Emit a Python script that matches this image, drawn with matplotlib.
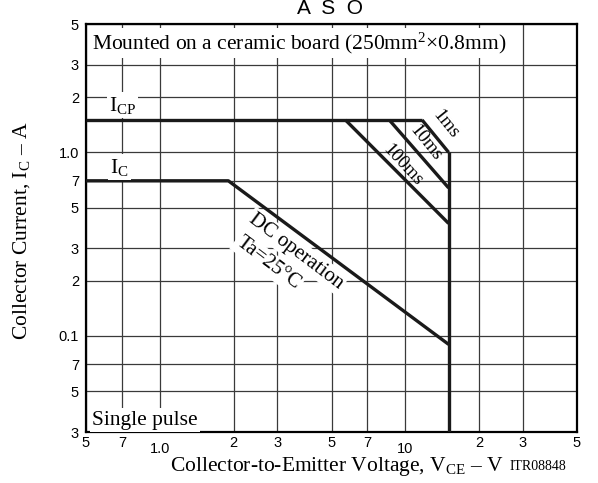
import matplotlib.pyplot as plt
import numpy as np

plt.rcParams['font.family'] = 'Liberation Sans'
plt.rcParams['mathtext.fontset'] = 'custom'
plt.rcParams['mathtext.rm'] = 'Liberation Serif'
plt.rcParams['mathtext.it'] = 'Liberation Serif:italic'

SERIF = 'Liberation Serif'

# tick positions and labels
x_ticks = [0.5, 0.7, 1.0, 2, 3, 5, 7, 10, 20, 30, 50]
x_labels = ['5', '7', '1.0', '2', '3', '5', '7', '10', '2', '3', '5']
y_ticks = [0.03, 0.05, 0.07, 0.1, 0.2, 0.3, 0.5, 0.7, 1.0, 2, 3, 5]
y_labels = ['3', '5', '7', '0.1', '2', '3', '5', '7', '1.0', '2', '3', '5']

# safe operating area curves (V, A)
icp_v = [0.5, 11.7]
icp_i = [1.5, 1.5]
ms1_v = [11.7, 15]
ms1_i = [1.5, 1.0]
ms10_v = [8.6, 15]
ms10_i = [1.5, 0.64]
ms100_v = [5.7, 15]
ms100_i = [1.5, 0.41]
dc_v = [0.5, 1.9, 15]
dc_i = [0.7, 0.7, 0.09]
vceo_v = [15, 15]
vceo_i = [1.0, 0.03]

fig = plt.figure(figsize=(5.98, 4.83), dpi=100)
ax = fig.add_axes([86/598, 1-432/483, 491/598, 408/483])
ax.set_xscale('log')
ax.set_yscale('log')
ax.set_xlim(0.5, 50)
ax.set_ylim(0.03, 5)
ax.minorticks_off()

ax.set_xticks(x_ticks)
ax.set_xticklabels(x_labels, fontsize=10.5)
ax.set_yticks(y_ticks)
ax.set_yticklabels(y_labels, fontsize=10.5)
ax.tick_params(length=0)
ax.tick_params(axis='x', pad=3)
ax.tick_params(axis='y', pad=5)
for i, t in enumerate(ax.xaxis.get_major_ticks()):
    if x_labels[i] in ('1.0', '10'):
        t.set_pad(7)

ax.grid(True, color='#3a3a3a', linewidth=0.9)
for s in ax.spines.values():
    s.set_linewidth(1.6)

lw = 2.4
for xs, ys in [(icp_v, icp_i), (ms1_v, ms1_i), (ms10_v, ms10_i),
               (ms100_v, ms100_i), (dc_v, dc_i), (vceo_v, vceo_i)]:
    ax.plot(xs, ys, color='#1a1a1a', linewidth=lw, solid_capstyle='butt', zorder=3)

box = dict(facecolor='white', edgecolor='none', pad=1.5)

def ptext(px, py, s, **kw):
    # place text in figure pixel coordinates (origin top-left)
    kw.setdefault('family', SERIF)
    kw.setdefault('fontsize', 15.5)
    fig.text(px/598, 1-py/483, s, **kw)

ptext(92, 43, 'Mounted on a ceramic board (250mm$^{2}$\u00d70.8mm)', ha='left', va='center',
      bbox=box)
ptext(109, 105, 'I$_{\\mathrm{CP}}$', ha='left', va='center', bbox=box)
ptext(110, 167, 'I$_{\\mathrm{C}}$', ha='left', va='center', bbox=box)
ptext(446, 124, '1ms', ha='center', va='center', rotation=-51, fontsize=13.5)
ptext(426, 143, '10ms', ha='center', va='center', rotation=-51, fontsize=13.5)
ptext(403, 165, '100ms', ha='center', va='center', rotation=-47, fontsize=13.5)
ptext(296, 251, 'DC operation', ha='center', va='center', rotation=-37, fontsize=15, bbox=box)
ptext(268, 263, 'Ta=25\u00b0C', ha='center', va='center', rotation=-37, fontsize=15, bbox=box)
ptext(92, 420, 'Single pulse', ha='left', va='center', bbox=box)

fig.text(330/598, 1-14/483, 'A  S  O', ha='center', va='baseline', fontsize=15)

ptext(22, 231, 'Collector Current, I$_{\\mathrm{C}}$ \u2013 A', ha='center', va='center', rotation=90)
ptext(504, 467, 'Collector-to-Emitter Voltage, V$_{\\mathrm{CE}}$ \u2013 V', ha='right', va='center')
ptext(510, 467, 'ITR08848', ha='left', va='center', fontsize=10)

fig.savefig('out.png', dpi=100)
